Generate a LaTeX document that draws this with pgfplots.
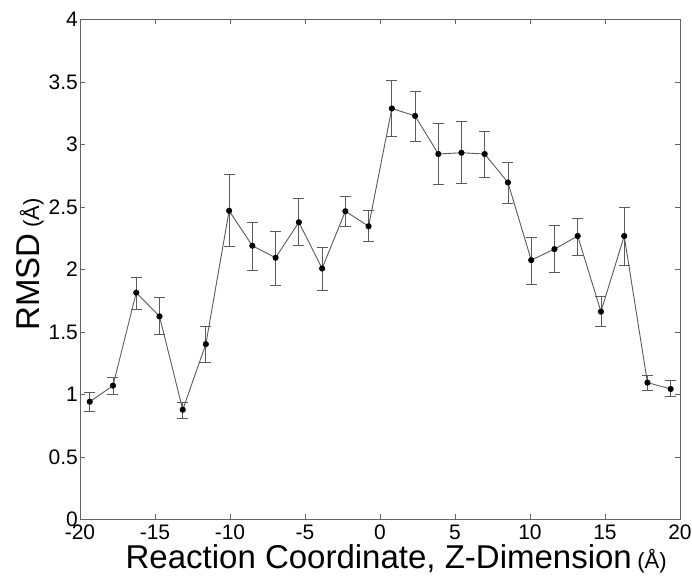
\documentclass[border=0pt]{standalone}
\usepackage{pgfplots}
\pgfplotsset{compat=1.18}
\usepackage{fontspec}
\setmainfont{Liberation Sans}
\pgfplotstableread{
x y ep em
-19.35 0.942 0.078 0.080
-17.80 1.071 0.067 0.073
-16.25 1.815 0.121 0.131
-14.70 1.625 0.150 0.145
-13.15 0.878 0.059 0.067
-11.61 1.403 0.145 0.144
-10.06 2.470 0.292 0.286
-8.51 2.190 0.186 0.198
-6.96 2.094 0.212 0.222
-5.41 2.378 0.188 0.184
-3.86 2.008 0.170 0.174
-2.31 2.466 0.116 0.122
-0.76 2.346 0.128 0.124
0.79 3.288 0.224 0.220
2.34 3.229 0.193 0.201
3.89 2.924 0.243 0.244
5.43 2.934 0.247 0.243
6.98 2.924 0.184 0.188
8.53 2.696 0.161 0.169
10.08 2.075 0.185 0.193
11.63 2.163 0.188 0.187
13.18 2.268 0.142 0.153
14.73 1.663 0.123 0.118
16.28 2.268 0.230 0.233
17.83 1.095 0.059 0.059
19.38 1.044 0.067 0.056
}\rmsd
\definecolor{axgray}{RGB}{100,100,100}
\definecolor{bargray}{RGB}{90,90,90}
\begin{document}
\begin{tikzpicture}
\begin{axis}[
  name=ax,
  scale only axis, width=600bp, height=500bp,
  xmin=-20, xmax=20, ymin=0, ymax=4,
  xtick={-20,-15,...,20}, ytick={0,0.5,...,4},
  axis line style={axgray, line width=0.9bp},
  tick style={axgray, line width=0.9bp},
  major tick length=5bp,
  tick align=inside,
  /pgf/number format/assume math mode=true,
  ticklabel style={font=\fontsize{21bp}{25bp}\selectfont},
  xticklabel style={anchor=base, yshift=-20bp, inner sep=0pt},
  yticklabel style={anchor=east, inner sep=0pt, xshift=-2bp},
  xlabel={\fontsize{33bp}{38bp}\selectfont Reaction Coordinate, Z-Dimension\,{\fontsize{22bp}{26bp}\selectfont (Å)}},
  ylabel={\fontsize{33bp}{38bp}\selectfont RMSD\,{\fontsize{22bp}{26bp}\selectfont (Å)}},
  xlabel style={at={(axis description cs:0.527,0)}, anchor=base, yshift=-49bp, inner sep=0pt, text height=24bp, text depth=6bp},
  ylabel style={at={(axis description cs:-0.0683,0.51)}, anchor=base, rotate=0, inner sep=0pt, text height=24bp, text depth=6bp},
]
\addplot[bargray, line width=0.9bp, mark=*, mark size=2.6bp,
  mark options={black, fill=black},
  error bars/.cd, y dir=both, y explicit,
  error bar style={bargray, line width=0.9bp},
  error mark options={rotate=90, mark size=5.5bp, bargray, line width=0.9bp}]
  table[x=x, y=y, y error plus=ep, y error minus=em] {\rmsd};
\end{axis}
\pgfresetboundingbox
\path[use as bounding box] ([xshift=-80bp,yshift=-57bp]ax.south west) rectangle ([xshift=12bp,yshift=19.5bp]ax.north east);
\end{tikzpicture}
\end{document}
